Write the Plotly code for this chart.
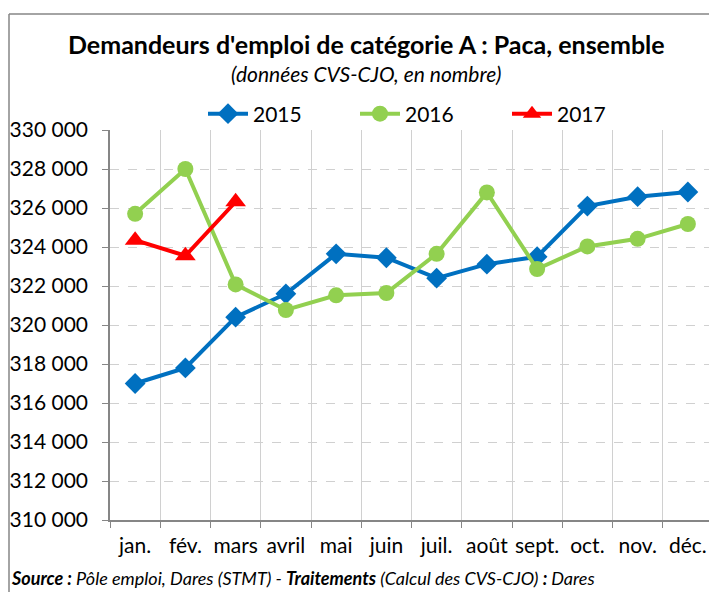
import plotly.graph_objects as go

months = ["jan.", "fév.", "mars", "avril", "mai", "juin", "juil.", "août", "sept.", "oct.", "nov.", "déc."]
y2015 = [317000, 317800, 320400, 321600, 323650, 323450, 322400, 323120, 323500, 326100, 326580, 326820]
y2016 = [325700, 328000, 322080, 320770, 321520, 321640, 323650, 326800, 322870, 324030, 324420, 325180]
y2017 = [324350, 323550, 326320]

FONT = "Lato"
OFF = 8                      # page body margin of the html page
W, H = 717 - OFF, 592 - OFF
# plot area in page pixels: x 110..713, y 130..520
L, R, T, B = 110 - OFF, W - (713 - OFF), 130 - OFF, H - (520 - OFF)
PW, PH = W - L - R, H - T - B


def px(x):  # page pixel -> paper coord
    return (x - OFF - L) / PW


def py(y):
    return (H - B - (y - OFF)) / PH


fig = go.Figure()
fig.add_trace(go.Scatter(x=months, y=y2015, name="2015", mode="lines+markers",
                         line=dict(color="#0070C0", width=4),
                         marker=dict(symbol="diamond", size=16, color="#0070C0")))
fig.add_trace(go.Scatter(x=months, y=y2016, name="2016", mode="lines+markers",
                         line=dict(color="#92D050", width=4),
                         marker=dict(symbol="circle", size=16, color="#92D050")))
fig.add_trace(go.Scatter(x=months[:3], y=y2017, name="2017", mode="lines+markers",
                         line=dict(color="#FF0000", width=4),
                         marker=dict(symbol="triangle-up", size=18, color="#FF0000")))

fig.update_layout(
    width=W, height=H,
    margin=dict(l=L, r=R, t=T, b=B, autoexpand=False),
    paper_bgcolor="white", plot_bgcolor="white",
    font=dict(family=FONT, size=21, color="black"),
    separators=", ",
    showlegend=True,
    legend=dict(orientation="h", x=px(203), xanchor="left", y=py(114), yanchor="middle",
                font=dict(size=21), itemwidth=40, entrywidth=97, entrywidthmode="pixels",
                bgcolor="rgba(0,0,0,0)"),
    xaxis=dict(type="category", range=[-0.5, 11.5], tickson="boundaries",
               ticks="outside", ticklen=6, tickcolor="#868686", tickwidth=1,
               showgrid=True, gridcolor="#d0d0d0", gridwidth=1,
               showline=True, linecolor="#868686", linewidth=1.5, tickangle=0,
               tickfont=dict(size=21), ticklabelstandoff=6, automargin=False, fixedrange=True),
    yaxis=dict(range=[310000, 330000], dtick=2000, tickformat=",d",
               ticks="outside", ticklen=6, tickcolor="#868686",
               showgrid=True, gridcolor="#d0d0d0", griddash="dash", gridwidth=1,
               showline=True, linecolor="#868686", linewidth=1.5,
               tickfont=dict(size=21), ticklabelstandoff=10, zeroline=False, automargin=False),
)

fig.add_annotation(text="<b>Demandeurs d'emploi de catégorie A : Paca, ensemble</b>",
                   xref="paper", yref="paper", x=px(366), y=py(44),
                   xanchor="center", yanchor="middle", showarrow=False,
                   font=dict(size=25, family=FONT))
fig.add_annotation(text="<i>(données CVS-CJO, en nombre)</i>",
                   xref="paper", yref="paper", x=px(366), y=py(73),
                   xanchor="center", yanchor="middle", showarrow=False,
                   font=dict(size=21, family=FONT))
fig.add_annotation(text="<b><i>Source :</i></b><i> Pôle emploi, Dares (STMT) - </i><b><i>Traitements</i></b><i> (Calcul des CVS-CJO) </i><b><i>: </i></b><i>Dares</i>",
                   xref="paper", yref="paper", x=px(9), y=py(578),
                   xanchor="left", yanchor="middle", showarrow=False,
                   font=dict(size=18, family=FONT))

# outer chart border (left and top)
fig.add_shape(type="line", xref="paper", yref="paper",
              x0=px(9), x1=px(9), y0=py(600), y1=py(14),
              line=dict(color="#868686", width=1.5))
fig.add_shape(type="line", xref="paper", yref="paper",
              x0=px(9), x1=px(720), y0=py(14), y1=py(14),
              line=dict(color="#868686", width=1.5))

fig.write_html("out.html")
